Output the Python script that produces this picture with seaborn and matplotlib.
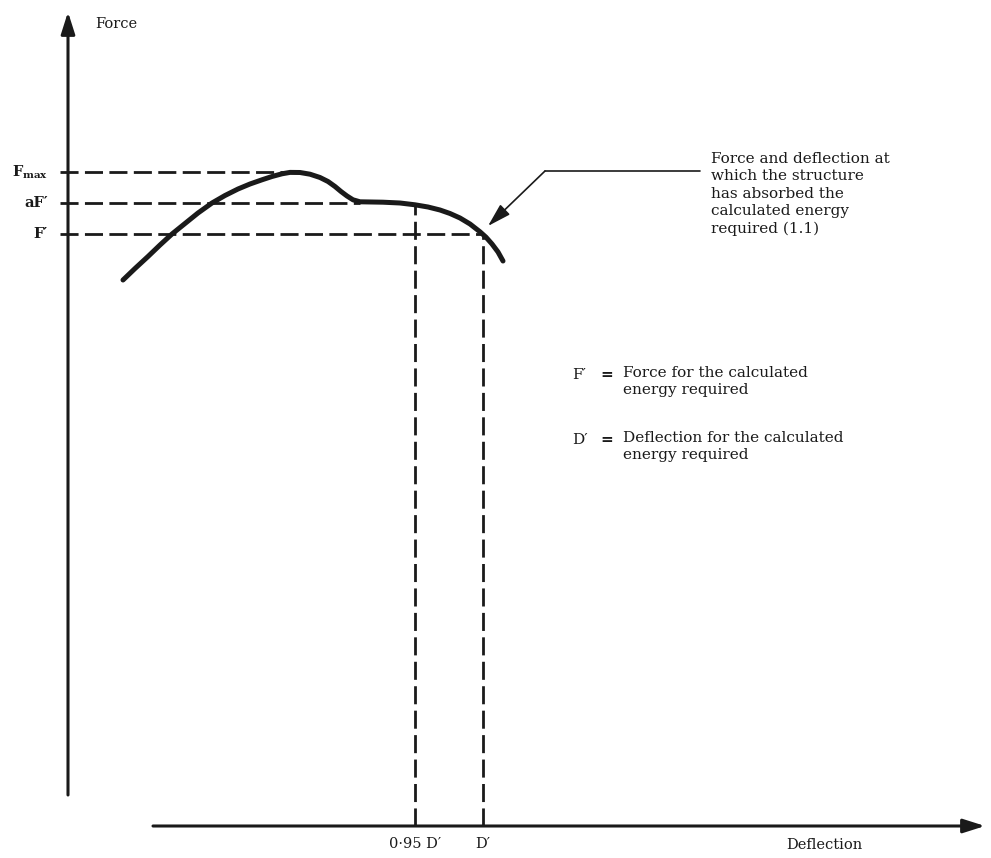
import matplotlib
matplotlib.use("Agg")
import matplotlib.pyplot as plt
import seaborn as sns
import pandas as pd

# force-deflection curve (schematic units, origin where the axes meet)
deflection = [5.5, 6.7, 8.0, 9.2, 10.4, 11.7, 13.0, 14.4, 15.7, 17.0, 18.2, 19.4,
              20.4, 21.4, 22.2, 23.2, 24.2, 25.2, 26.0, 26.7, 27.3, 27.9, 28.5,
              29.2, 31.5, 33.2, 34.7, 36.0, 37.2, 38.2, 39.2, 40.2, 41.2, 41.8,
              42.4, 43.0, 43.5]
force = [54.6, 55.75, 56.95, 58.1, 59.2, 60.25, 61.3, 62.3, 63.05, 63.7, 64.2, 64.62,
         64.95, 65.22, 65.36, 65.35, 65.18, 64.85, 64.45, 63.95, 63.45, 63.0, 62.62,
         62.42, 62.38, 62.3, 62.12, 61.9, 61.6, 61.25, 60.8, 60.2, 59.42, 58.88,
         58.2, 57.4, 56.5]

level_labels = ["F$_{\\mathbf{max}}$", "aF\u2032", "F\u2032"]
level_force = [65.4, 62.3, 59.2]
level_end = [21.7, 29.2, 41.5]

mark_labels = ["0\u00b795 D\u2032", "D\u2032"]
mark_defl = [34.7, 41.5]
mark_force = [62.1, 59.2]

note_text = ("Force and deflection at\nwhich the structure\nhas absorbed the\n"
             "calculated energy\nrequired (1.1)")
key_symbols = ["F\u2032", "D\u2032"]
key_texts = ["Force for the calculated\nenergy required",
             "Deflection for the calculated\nenergy required"]

sns.set_theme(style="white")
plt.rcParams["font.family"] = ["DejaVu Serif"]
plt.rcParams["mathtext.fontset"] = "dejavuserif"

fig = plt.figure(figsize=(9.91, 8.58), dpi=100)
ax = fig.add_axes([0, 0, 1, 1])
ax.set_xlim(-6.8, 92.3)
ax.set_ylim(-3.2, 82.6)
ax.axis("off")

ink = "#1a1a1a"
dash = (0, (6.5, 2.3))

# axes with arrow heads
ax.annotate("", xy=(0, 81.4), xytext=(0, 3.1),
            arrowprops=dict(arrowstyle="-|>,head_length=1.1,head_width=0.35",
                            color=ink, lw=2.2, shrinkA=0, shrinkB=0))
ax.annotate("", xy=(91.7, 0), xytext=(8.5, 0),
            arrowprops=dict(arrowstyle="-|>,head_length=1.1,head_width=0.35",
                            color=ink, lw=2.2, shrinkA=0, shrinkB=0))
ax.text(2.7, 80.2, "Force", fontsize=10.5, va="center", ha="left", color=ink)
ax.text(71.8, -1.9, "Deflection", fontsize=10.5, va="center", ha="left", color=ink)

# dashed reference levels
ax.hlines(level_force, -0.8, level_end, colors=ink, linestyles=dash, lw=2.0)
for lab, y in zip(level_labels, level_force):
    ax.text(-2.0, y, lab, fontsize=10.5, ha="right", va="center",
            color=ink, fontweight="bold")

ax.vlines(mark_defl, 0, mark_force, colors=ink, linestyles=dash, lw=2.0)
for lab, x in zip(mark_labels, mark_defl):
    ax.text(x, -1.8, lab, fontsize=10.5, ha="center", va="center", color=ink)

# the curve
df = pd.DataFrame({"deflection": deflection, "force": force})
sns.lineplot(data=df, x="deflection", y="force", sort=False, ax=ax,
             color=ink, lw=3.6, solid_capstyle="round", solid_joinstyle="round")

# callout
ax.plot([47.7, 63.2], [65.5, 65.5], color=ink, lw=1.2)
ax.annotate("", xy=(42.0, 60.0), xytext=(47.7, 65.5),
            arrowprops=dict(arrowstyle="-|>,head_length=1.2,head_width=0.35",
                            color=ink, lw=1.2, shrinkA=0, shrinkB=0))
ax.text(64.3, 67.4, note_text, fontsize=11, ha="left", va="top",
        color=ink, linespacing=1.3)

# key
for i, (sym, txt) in enumerate(zip(key_symbols, key_texts)):
    y = 45.1 - i * 6.5
    ax.text(50.4, y, sym, fontsize=11, ha="left", va="center", color=ink)
    ax.text(53.2, y, "=", fontsize=11, ha="left", va="center", color=ink,
            fontweight="bold")
    ax.text(55.5, y + 0.9, txt, fontsize=11, ha="left", va="top", color=ink,
            linespacing=1.25)

fig.savefig("out.png", dpi=100)
